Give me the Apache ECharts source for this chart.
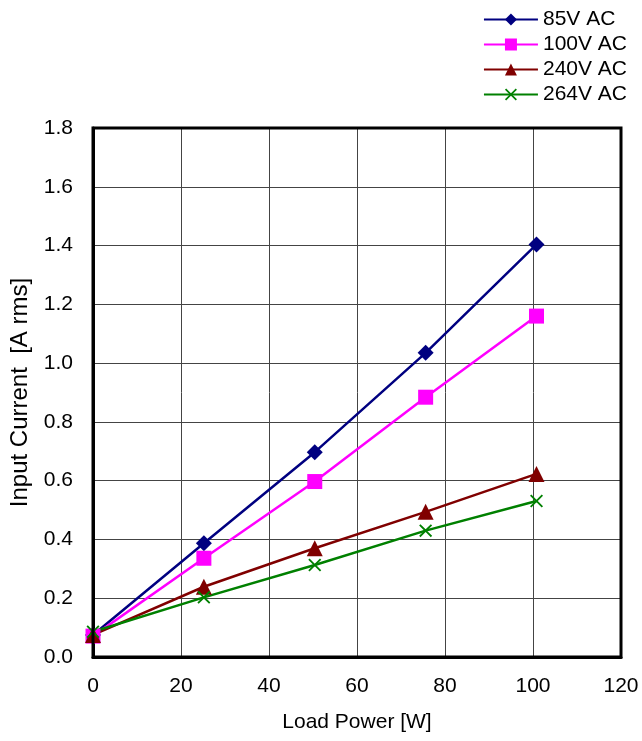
<!DOCTYPE html>
<html>
<head>
<meta charset="utf-8">
<script src="https://cdn.jsdelivr.net/npm/echarts@6/dist/echarts.min.js"></script>
<style>
  html, body { margin: 0; padding: 0; background: #fff; }
  #chart { width: 642px; height: 741px; }
</style>
</head>
<body>
<div id="chart"></div>
<script>
// load power [W]
const loadPower = [0, 25.2, 50.4, 75.6, 100.8];
// input current [A rms]
const v85 = [0.075, 0.387, 0.697, 1.035, 1.404];
const v100 = [0.071, 0.336, 0.597, 0.884, 1.160];
const v240 = [0.075, 0.239, 0.370, 0.494, 0.623];
const v264 = [0.086, 0.203, 0.313, 0.430, 0.531];
const seriesNames = ["85V AC", "100V AC", "240V AC", "264V AC"];

const xSymbol = "path://M0,1 L1,0 L5,4 L9,0 L10,1 L6,5 L10,9 L9,10 L5,6 L1,10 L0,9 L4,5 Z";

function pairs(ys) {
  return loadPower.map((x, i) => [x, ys[i]]);
}

function makeSeries(name, ys, color, symbol, size) {
  return {
    name: name,
    type: "line",
    data: pairs(ys),
    symbol: symbol,
    symbolSize: size,
    showAllSymbol: true,
    lineStyle: { color: color, width: 2.5 },
    itemStyle: { color: color },
    emphasis: { disabled: true },
  };
}

const chart = echarts.init(document.getElementById("chart"));
const font = "Liberation Sans, Arial, sans-serif";

chart.setOption({
  animation: false,
  textStyle: { fontFamily: font },
  grid: { left: 93, right: 21, top: 128, bottom: 84, outerBoundsMode: "none", containLabel: false },
  legend: {
    orient: "vertical",
    right: 10,
    top: 4,
    itemGap: 4,
    itemWidth: 54,
    itemHeight: 15,
    textStyle: { fontSize: 21, color: "#000", fontFamily: font },
    data: seriesNames,
  },
  xAxis: {
    type: "value",
    min: 0,
    max: 120,
    interval: 20,
    name: "Load Power [W]",
    nameLocation: "middle",
    nameGap: 55,
    nameTextStyle: { fontSize: 21, color: "#000" },
    axisLine: { show: true, lineStyle: { color: "#000", width: 3 } },
    axisTick: { show: false },
    axisLabel: { fontSize: 21, color: "#000", margin: 19 },
    splitLine: { show: true, lineStyle: { color: "#444", width: 1 } },
  },
  yAxis: {
    type: "value",
    min: 0,
    max: 1.8,
    interval: 0.2,
    name: "Input Current  [A rms]",
    nameLocation: "middle",
    nameGap: 61,
    nameTextStyle: { fontSize: 24, color: "#000" },
    axisLine: { show: true, lineStyle: { color: "#000", width: 3 } },
    axisTick: { show: false },
    axisLabel: {
      fontSize: 21,
      color: "#000",
      margin: 20,
      formatter: (v) => v.toFixed(1),
    },
    splitLine: { show: true, lineStyle: { color: "#444", width: 1 } },
  },
  series: [
    makeSeries(seriesNames[0], v85, "#000080", "diamond", 16),
    makeSeries(seriesNames[1], v100, "#ff00ff", "rect", 15),
    makeSeries(seriesNames[2], v240, "#800000", "triangle", 16),
    makeSeries(seriesNames[3], v264, "#008000", xSymbol, 13),
  ],
});

// plot frame (top and right edges)
chart.setOption({
  graphic: [
    {
      type: "rect",
      shape: { x: 93, y: 128, width: 528, height: 529 },
      style: { fill: "none", stroke: "#000", lineWidth: 3 },
      silent: true,
      z: 10,
    },
  ],
});
</script>
</body>
</html>
